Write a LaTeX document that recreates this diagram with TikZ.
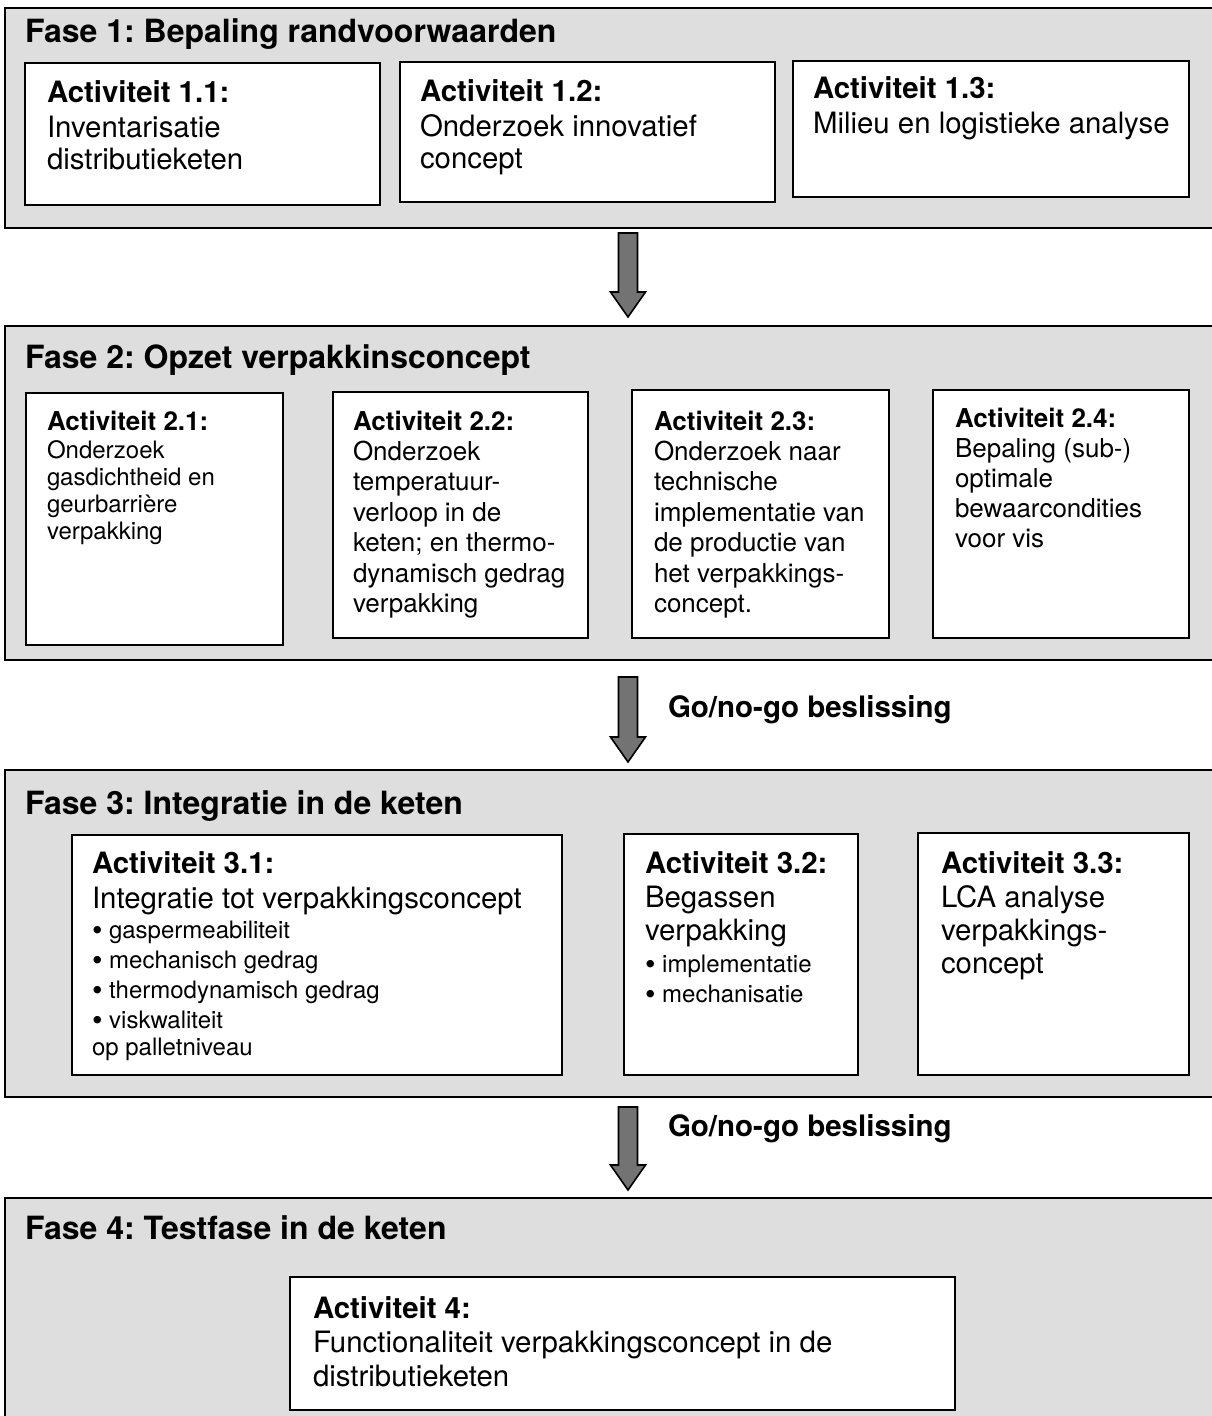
\documentclass[tikz,border=0pt]{standalone}
\usepackage{fontspec}
\setmainfont{TeX Gyre Heros}
\usetikzlibrary{calc}
\frenchspacing
\newcommand{\fsz}[1]{\fontsize{#1}{#1}\selectfont}
\newcommand{\boxnode}[6]{\node[#2, minimum width={#5-#3}, minimum height={#6-#4}] (#1) at (#3,#4) {};}
\newcommand{\blockarrow}[2]{%
  \draw[garrow] ($(#1)+(-9.5,0)$) -- ($(#1)+(9.5,0)$) -- ($(#2)+(9.5,-25)$) -- ($(#2)+(17.5,-25)$)
    -- (#2) -- ($(#2)+(-17.5,-25)$) -- ($(#2)+(-9.5,-25)$) -- cycle;}
\newcommand{\bul}{\raisebox{-2.5pt}{\scalebox{1.25}{\textbullet}}\ }
\begin{document}
\begin{tikzpicture}[x=1pt,y=-1pt,
  phase/.style={draw, line width=2.8pt, fill=black!13, anchor=north west, inner sep=0, outer sep=0},
  actbox/.style={draw, line width=2.4pt, fill=white, anchor=north west, inner sep=0, outer sep=0},
  txt/.style={anchor=base west, inner sep=0, outer sep=0},
  title/.style={txt, font=\bfseries\fsz{32}},
  hdA/.style={txt, font=\bfseries\fsz{29.4}},
  bdA/.style={txt, font=\fsz{29.4}},
  hdB/.style={txt, font=\bfseries\fsz{26}},
  bdB/.style={txt, font=\fsz{26}},
  bdC/.style={txt, font=\fsz{24}},
  garrow/.style={draw, line width=1.6pt, fill=black!55, line join=miter},
  golabel/.style={txt, font=\bfseries\fsz{29.5}}
]
\useasboundingbox (0,0) rectangle (1212,1416);

% ---------- Fase 1 ----------
\boxnode{f1}{phase}{5}{8}{1225}{228}
\node[title] (f1t) at (25,42) {Fase 1: Bepaling randvoorwaarden};
\boxnode{a11}{actbox}{25}{63}{380}{205}
\boxnode{a12}{actbox}{400}{62}{775}{202}
\boxnode{a13}{actbox}{793}{61}{1189}{197}
\node[hdA] (a11h) at (47,102) {Activiteit 1.1:};
\node[bdA] (a11b1) at (47,137) {Inventarisatie};
\node[bdA] (a11b2) at (47,169) {distributieketen};
\node[hdA] (a12h) at (420,101) {Activiteit 1.2:};
\node[bdA] (a12b1) at (420,136) {Onderzoek innovatief};
\node[bdA] (a12b2) at (420,168) {concept};
\node[hdA] (a13h) at (813,98) {Activiteit 1.3:};
\node[bdA] (a13b1) at (813,133) {Milieu en logistieke analyse};

\coordinate (ar1s) at (628,233);
\coordinate (ar1e) at (628,317);
\blockarrow{ar1s}{ar1e}

% ---------- Fase 2 ----------
\boxnode{f2}{phase}{5}{326}{1225}{660}
\node[title] (f2t) at (25,368) {Fase 2: Opzet verpakkinsconcept};
\boxnode{a21}{actbox}{26}{393}{283}{645}
\boxnode{a22}{actbox}{333}{392}{588}{638}
\boxnode{a23}{actbox}{632}{390}{889}{638}
\boxnode{a24}{actbox}{933}{390}{1189}{638}
\node[hdB] (a21h) at (47,430) {Activiteit 2.1:};
\foreach \t [count=\i from 0] in {{Onderzoek},{gasdichtheid en},{geurbarrière},{verpakking}}
  \node[bdC] (a21b\i) at (47,458+27*\i) {\t};
\node[hdB] (a22h) at (353,430) {Activiteit 2.2:};
\foreach \t [count=\i from 0] in {{Onderzoek},{temperatuur-},{verloop in de},{keten; en thermo-},{dynamisch gedrag},{verpakking}}
  \node[bdB] (a22b\i) at (353,460.5+30.4*\i) {\t};
\node[hdB] (a23h) at (654,430) {Activiteit 2.3:};
\foreach \t [count=\i from 0] in {{Onderzoek naar},{technische},{implementatie van},{de productie van},{het verpakkings-},{concept.}}
  \node[bdB] (a23b\i) at (654,460.5+30.4*\i) {\t};
\node[hdB] (a24h) at (955,427) {Activiteit 2.4:};
\foreach \t [count=\i from 0] in {{Bepaling (sub-)},{optimale},{bewaarcondities},{voor vis}}
  \node[bdB] (a24b\i) at (955,457+30.2*\i) {\t};

\coordinate (ar2s) at (628,677);
\coordinate (ar2e) at (628,762);
\blockarrow{ar2s}{ar2e}
\node[golabel] (go1) at (668,717) {Go/no-go beslissing};

% ---------- Fase 3 ----------
\boxnode{f3}{phase}{5}{770}{1225}{1097}
\node[title] (f3t) at (25,814) {Fase 3: Integratie in de keten};
\boxnode{a31}{actbox}{72}{835}{562}{1075}
\boxnode{a32}{actbox}{624}{834}{858}{1075}
\boxnode{a33}{actbox}{918}{833}{1189}{1075}
\node[hdA] (a31h) at (92,873) {Activiteit 3.1:};
\node[bdA] (a31b) at (92,908) {Integratie tot verpakkingsconcept};
\foreach \t [count=\i from 0] in {{gaspermeabiliteit},{mechanisch gedrag},{thermodynamisch gedrag},{viskwaliteit}}
  \node[bdC] (a31p\i) at (92,938+30*\i) {\bul\t};
\node[bdC] (a31q) at (92,1055) {op palletniveau};
\node[hdA] (a32h) at (645,873) {Activiteit 3.2:};
\node[bdA] (a32b1) at (645,907) {Begassen};
\node[bdA] (a32b2) at (645,940) {verpakking};
\node[bdC] (a32p1) at (645,972) {\bul implementatie};
\node[bdC] (a32p2) at (645,1002) {\bul mechanisatie};
\node[hdA] (a33h) at (941,873) {Activiteit 3.3:};
\node[bdA] (a33b1) at (941,907) {LCA analyse};
\node[bdA] (a33b2) at (941,940) {verpakkings-};
\node[bdA] (a33b3) at (941,973) {concept};

\coordinate (ar3s) at (628,1107);
\coordinate (ar3e) at (628,1190);
\blockarrow{ar3s}{ar3e}
\node[golabel] (go2) at (668,1136) {Go/no-go beslissing};

% ---------- Fase 4 ----------
\boxnode{f4}{phase}{5}{1198}{1225}{1430}
\node[title] (f4t) at (25,1239) {Fase 4: Testfase in de keten};
\boxnode{a4}{actbox}{290}{1277}{955}{1410}
\node[hdA] (a4h) at (313,1318) {Activiteit 4:};
\node[bdA] (a4b1) at (313,1352) {Functionaliteit verpakkingsconcept in de};
\node[bdA] (a4b2) at (313,1386) {distributieketen};
\end{tikzpicture}
\end{document}
